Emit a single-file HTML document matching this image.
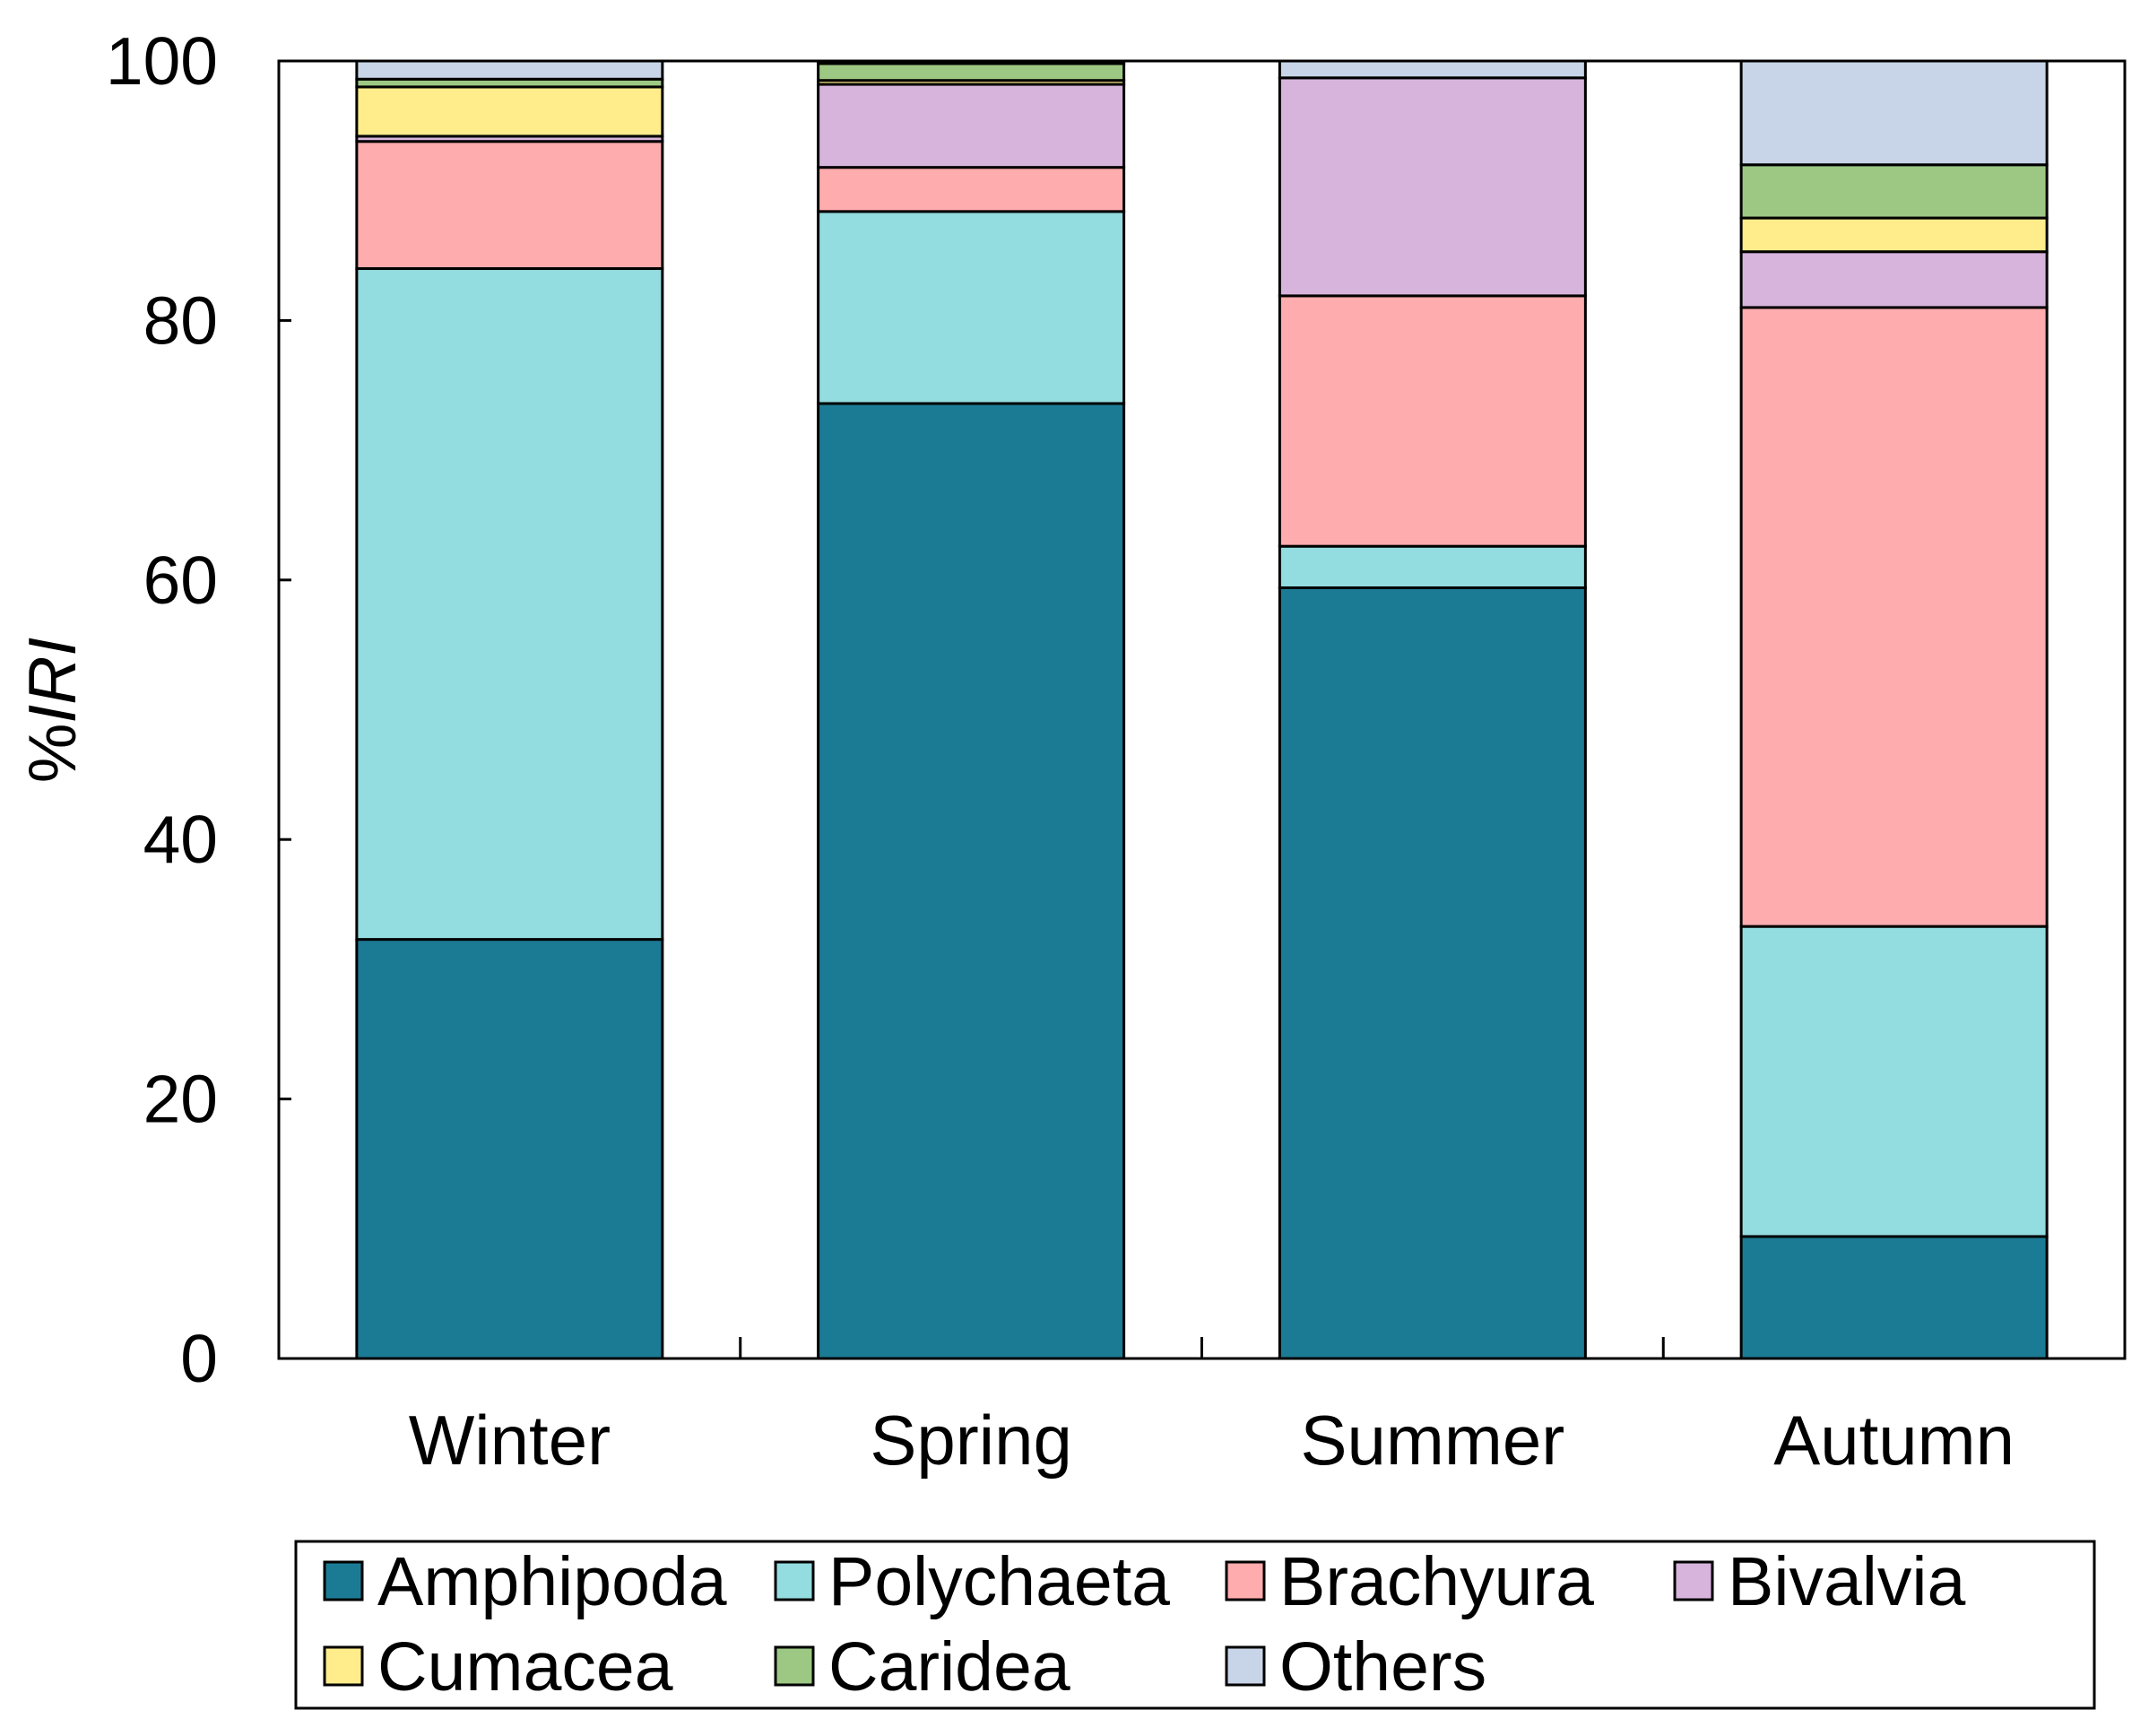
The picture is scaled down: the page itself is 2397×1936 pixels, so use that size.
<!DOCTYPE html>
<html><head><meta charset="utf-8"><style>
html,body{margin:0;padding:0;background:#fff;}
svg text{font-family:"Liberation Sans",Arial,sans-serif;fill:#000;}
</style></head><body>
<svg id="chart" width="2397" height="1931" viewBox="0 0 2397 1931" xmlns="http://www.w3.org/2000/svg">
<g id="plot"></g>
</svg>
<script>
const seasons = ["Winter","Spring","Summer","Autumn"];
const groups = ["Amphipoda","Polychaeta","Brachyura","Bivalvia","Cumacea","Caridea","Others"];
const colors = ["#1c7b94","#93dcdf","#ffacae","#d7b4dc","#ffec8b","#9dc883","#c8d5e8"];
const amphipoda = [32.3, 73.6, 59.4, 9.4];
const polychaeta = [51.7, 14.8, 3.2, 23.9];
const brachyura = [9.8, 3.4, 19.3, 47.7];
const bivalvia = [0.4, 6.4, 16.8, 4.3];
const cumacea = [3.8, 0.3, 0, 2.6];
const caridea = [0.6, 1.3, 0, 4.1];
const others = [1.4, 0.2, 1.3, 8.0];
const yTicks = [0,20,40,60,80,100];

const series = [amphipoda,polychaeta,brachyura,bivalvia,cumacea,caridea,others];
const NS="http://www.w3.org/2000/svg";
const svg=document.getElementById('plot');
const L=311,R=2370,T=68,B=1515;
const y=v=>B-(v/100)*(B-T);
const band=(R-L)/seasons.length;
const xc=i=>L+band*(i+0.5);
const bw=341;
function mk(tag,attrs){const e=document.createElementNS(NS,tag);for(const k in attrs)e.setAttribute(k,attrs[k]);svg.appendChild(e);return e;}

seasons.forEach((s,i)=>{
  let acc=0;
  series.forEach((ser,j)=>{
    const v=ser[i];
    if(v<=0){return;}
    const r=mk('rect',{x:xc(i)-bw/2,y:y(acc+v),width:bw,height:y(acc)-y(acc+v),fill:colors[j],stroke:'#000','stroke-width':3});
    
    
    acc+=v;
  });
});
const fr=mk('rect',{x:L,y:T,width:R-L,height:B-T,fill:'none',stroke:'#000','stroke-width':3});


yTicks.forEach(t=>{
  const ln=mk('line',{x1:L,x2:L+14,y1:y(t),y2:y(t),stroke:'#000','stroke-width':3});
  
  
  const tx=mk('text',{x:243,y:y(t)+26,'font-size':75,'text-anchor':'end'});
  tx.textContent=t;
  
  
});
for(let i=1;i<seasons.length;i++){
  const ln=mk('line',{x1:L+band*i,x2:L+band*i,y1:B,y2:B-24,stroke:'#000','stroke-width':3});
  
  
}
seasons.forEach((s,i)=>{
  const tx=mk('text',{x:xc(i),y:1633,'font-size':78,'text-anchor':'middle'});
  tx.textContent=s;
  
  
});
const yt=mk('text',{x:0,y:0,'font-size':75,'text-anchor':'middle',transform:'translate(84,792) rotate(-90)'});
yt.innerHTML='%<tspan font-style="italic">IRI</tspan>';


const lb=mk('rect',{x:330,y:1719,width:2006,height:186,fill:'#fff',stroke:'#000','stroke-width':3});


const colX=[362,865,1368,1868], rowY=[1763,1858];
groups.forEach((g,j)=>{
  const cx=colX[j%4], cy=rowY[Math.floor(j/4)];
  const sw=mk('rect',{x:cx,y:cy-21,width:42,height:42,fill:colors[j],stroke:'#000','stroke-width':3});
  
  
  const tx=mk('text',{x:cx+59,y:cy+27,'font-size':77});
  tx.textContent=g;
  
  
});
</script>
</body></html>
